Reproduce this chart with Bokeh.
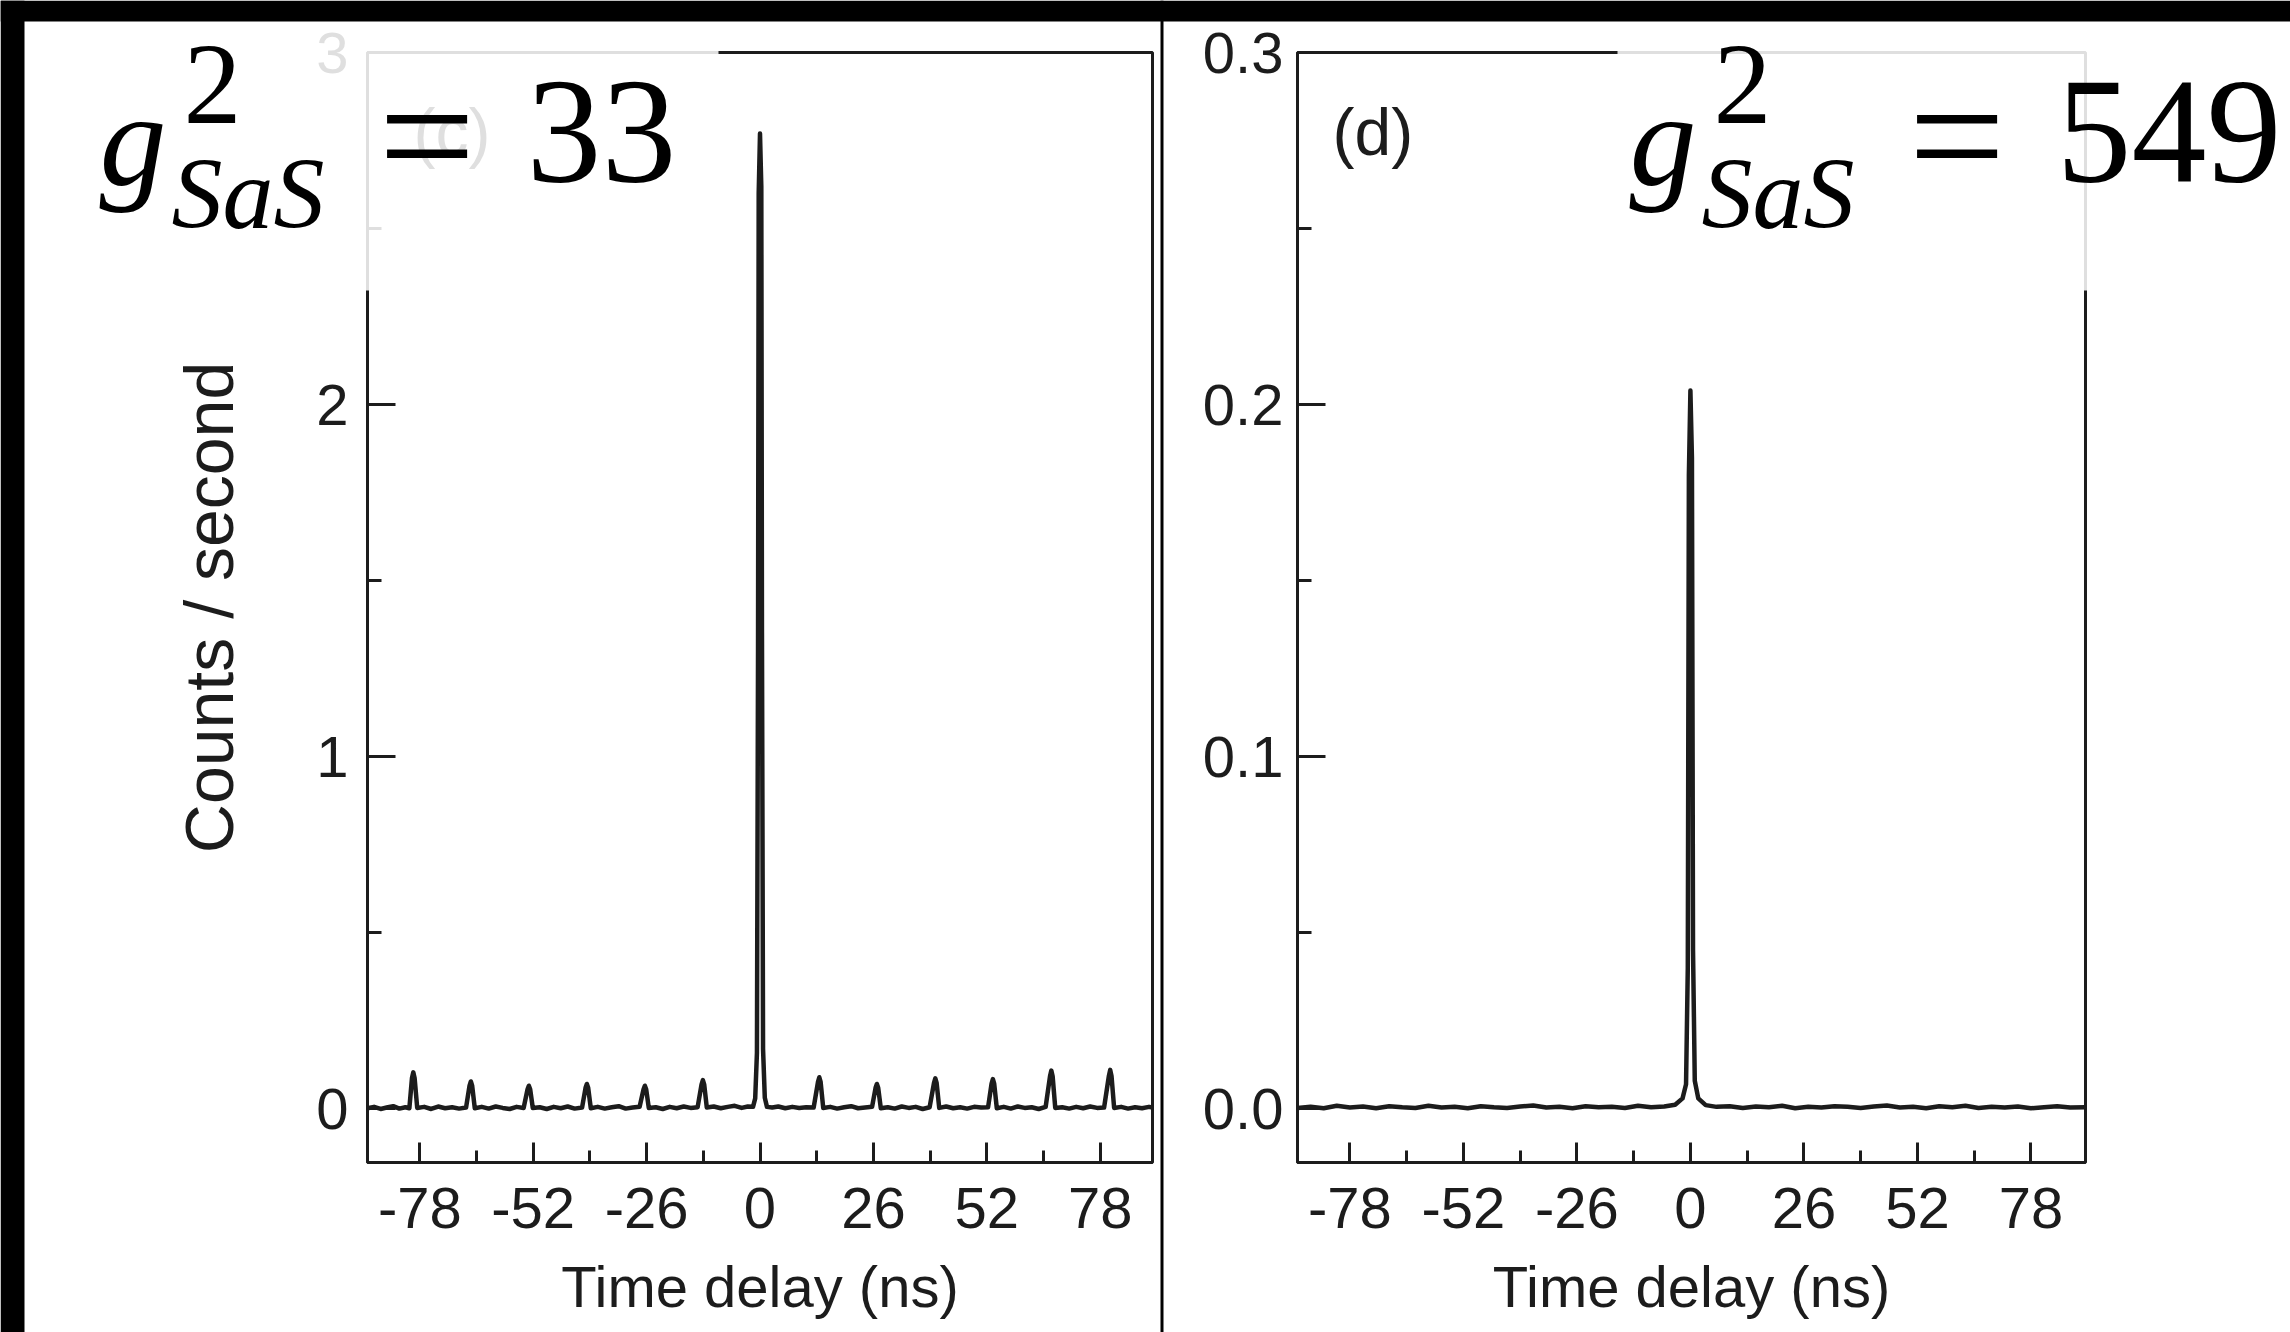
from bokeh.plotting import figure
from bokeh.models import FixedTicker, Label, Range1d, PrintfTickFormatter
from bokeh.layouts import row, column
from bokeh.embed import file_html
from bokeh.resources import INLINE

# ---------------- data ----------------
# panel (c): coincidence histogram, time delay (ns) vs counts / second
x_c = [
    -90.0, -88.5, -87.0, -85.6, -84.1, -82.7, -81.3, -80.4, -79.8, -79.5, -79.2, -78.6,
    -77.0, -75.4, -73.8, -72.2, -70.6, -69.0, -67.4, -66.6, -66.3, -66.0, -65.4,
    -63.8, -62.2, -60.6, -59.0, -57.4, -55.8, -54.2, -53.3, -53.0, -52.7, -52.1,
    -50.5, -48.9, -47.3, -45.7, -44.1, -42.5, -40.8, -40.0, -39.7, -39.4, -38.8,
    -37.2, -35.6, -34.0, -32.4, -30.8, -29.2, -27.6, -26.7, -26.4, -26.1, -25.5,
    -23.9, -22.3, -20.7, -19.1, -17.5, -15.9, -14.3, -13.4, -13.1, -12.8, -12.2,
    -10.6, -9.0, -7.4, -5.8, -4.2, -2.8, -1.6,
    -1.1, -0.7, -0.45, -0.3, 0.0, 0.3, 0.45, 0.7, 1.1, 1.6,
    2.8, 4.2, 5.8, 7.4, 9.0, 10.6, 12.3, 13.3, 13.6, 13.9, 14.5,
    16.1, 17.7, 19.3, 20.9, 22.5, 24.1, 25.7, 26.5, 26.8, 27.1, 27.7,
    29.3, 30.9, 32.5, 34.1, 35.7, 37.3, 38.9, 39.9, 40.2, 40.5, 41.1,
    42.7, 44.3, 45.9, 47.5, 49.1, 50.7, 52.3, 53.1, 53.4, 53.7, 54.3,
    55.9, 57.5, 59.1, 60.7, 62.3, 63.9, 65.5, 66.5, 66.8, 67.1, 67.7,
    69.3, 70.9, 72.5, 74.1, 75.7, 77.3, 78.9, 80.0, 80.3, 80.6, 81.2,
    82.8, 84.4, 86.0, 87.6, 89.2, 90.5,
]
y_c = [
    0.002, 0.006, 0.000, 0.004, 0.008, 0.001, 0.005, 0.002, 0.088, 0.104, 0.088, 0.003,
    0.006, 0.000, 0.007, 0.002, 0.005, 0.001, 0.004, 0.066, 0.078, 0.066, 0.002,
    0.006, 0.001, 0.007, 0.003, 0.000, 0.006, 0.003, 0.056, 0.066, 0.056, 0.003,
    0.005, 0.000, 0.006, 0.002, 0.007, 0.001, 0.004, 0.060, 0.071, 0.060, 0.002,
    0.006, 0.001, 0.005, 0.008, 0.001, 0.004, 0.006, 0.056, 0.066, 0.056, 0.003,
    0.005, 0.000, 0.006, 0.002, 0.007, 0.003, 0.005, 0.070, 0.082, 0.070, 0.004,
    0.007, 0.002, 0.006, 0.009, 0.003, 0.007, 0.006,
    0.030, 0.160, 1.300, 2.600, 2.770, 2.620, 1.350, 0.170, 0.032, 0.006,
    0.004, 0.007, 0.002, 0.006, 0.003, 0.005, 0.004, 0.077, 0.090, 0.077, 0.003,
    0.006, 0.001, 0.005, 0.008, 0.002, 0.004, 0.006, 0.060, 0.071, 0.060, 0.002,
    0.005, 0.001, 0.007, 0.003, 0.006, 0.000, 0.005, 0.074, 0.087, 0.074, 0.003,
    0.007, 0.002, 0.005, 0.001, 0.006, 0.004, 0.005, 0.072, 0.085, 0.072, 0.002,
    0.006, 0.001, 0.007, 0.003, 0.005, 0.000, 0.006, 0.093, 0.109, 0.093, 0.003,
    0.005, 0.001, 0.006, 0.002, 0.007, 0.003, 0.004, 0.094, 0.111, 0.094, 0.003,
    0.006, 0.001, 0.005, 0.002, 0.006, 0.003,
]

# panel (d)
x_d = [
    -90.0, -87.0, -84.0, -81.0, -78.0, -75.0, -72.0, -69.0, -66.0, -63.0, -60.0, -57.0,
    -54.0, -51.0, -48.0, -45.0, -42.0, -39.0, -36.0, -33.0, -30.0, -27.0, -24.0, -21.0,
    -18.0, -15.0, -12.0, -9.0, -6.0,
    -3.5, -1.8, -1.0, -0.6, -0.35, 0.0, 0.35, 0.6, 1.0, 1.8, 3.5,
    6.0, 9.0, 12.0, 15.0, 18.0, 21.0, 24.0, 27.0, 30.0, 33.0, 36.0, 39.0, 42.0, 45.0,
    48.0, 51.0, 54.0, 57.0, 60.0, 63.0, 66.0, 69.0, 72.0, 75.0, 78.0, 81.0, 84.0, 87.0,
    90.5,
]
y_d = [
    0.0003, 0.0006, 0.0002, 0.0009, 0.0004, 0.0007, 0.0002, 0.0008, 0.0005, 0.0003, 0.0009, 0.0004,
    0.0006, 0.0002, 0.0008, 0.0005, 0.0003, 0.0007, 0.0010, 0.0004, 0.0006, 0.0002, 0.0008, 0.0005,
    0.0006, 0.0003, 0.0009, 0.0005, 0.0007,
    0.0012, 0.0030, 0.0070, 0.0400, 0.1800, 0.2040, 0.1850, 0.0450, 0.0080, 0.0030, 0.0011,
    0.0006, 0.0008, 0.0003, 0.0007, 0.0005, 0.0009, 0.0002, 0.0006, 0.0004, 0.0008, 0.0006, 0.0003,
    0.0007, 0.0010, 0.0004, 0.0006, 0.0002, 0.0008, 0.0005, 0.0009, 0.0003, 0.0006, 0.0004, 0.0007,
    0.0002, 0.0005, 0.0008, 0.0004,
    0.0005,
]
assert len(x_c) == len(y_c) and len(x_d) == len(y_d)

x_major = [-78, -52, -26, 0, 26, 52, 78]
x_minor = [-65, -39, -13, 13, 39, 65]
yc_major = [0, 1, 2, 3]
yc_minor = [0.5, 1.5, 2.5]
yd_major = [0.0, 0.1, 0.2, 0.3]
yd_minor = [0.05, 0.15, 0.25]

x_title = "Time delay (ns)"
yc_title = "Counts / second"
panel_tags = ["(c)", "(d)"]
g2_values = ["33", "549"]

INK = "#1c1c1c"
SANS = "Liberation Sans"
SERIF = "Liberation Serif, Times New Roman, Times, Nimbus Roman, DejaVu Serif, serif"
W, H = 2290, 1332
WC = 1160
WD = W - WC
BASE_SHIFT = 0.34  # em offset of Bokeh's alphabetic anchor, calibrated


def make_fig(w, xr, yr, mb_left, mb_right, mb_top, mb_bottom):
    p = figure(width=w, height=H, x_range=Range1d(*xr), y_range=Range1d(*yr),
               output_backend="svg", toolbar_location=None,
               min_border_left=mb_left, min_border_right=mb_right,
               min_border_top=mb_top, min_border_bottom=mb_bottom)
    p.background_fill_color = "white"
    p.border_fill_color = "white"
    p.grid.grid_line_color = None
    p.outline_line_color = INK
    p.outline_line_width = 3
    for ax in (p.xaxis[0], p.yaxis[0]):
        ax.axis_line_color = INK
        ax.axis_line_width = 3
        ax.major_tick_line_color = INK
        ax.minor_tick_line_color = INK
        ax.major_tick_line_width = 3
        ax.minor_tick_line_width = 3
        ax.major_tick_out = 0
        ax.minor_tick_out = 0
        ax.major_label_text_font = SANS
        ax.major_label_text_font_size = "58px"
        ax.major_label_text_color = INK
        ax.axis_label_text_font = SANS
        ax.axis_label_text_font_style = "normal"
        ax.axis_label_text_color = INK
    xa = p.xaxis[0]
    xa.ticker = FixedTicker(ticks=x_major, minor_ticks=x_minor)
    xa.formatter = PrintfTickFormatter(format="%d")
    xa.major_tick_in = 20
    xa.minor_tick_in = 12
    xa.major_label_standoff = 25
    xa.axis_label = x_title
    xa.axis_label_text_font_size = "58px"
    xa.axis_label_standoff = 23
    ya = p.yaxis[0]
    ya.major_tick_in = 28
    ya.minor_tick_in = 14
    return p


def tag(p, x, baseline, s, size):
    p.add_layout(Label(x=x, y=baseline - BASE_SHIFT * size, x_units="canvas", y_units="canvas",
                       text=s, text_font=SANS, text_font_size=f"{size}px", text_color=INK,
                       text_align="left", text_baseline="alphabetic"))


# ---------------- panel (c) ----------------
pc = make_fig(WC, (-90, 90), (-0.152, 3.0), 367, 8, 51, 170)
pc.yaxis[0].ticker = FixedTicker(ticks=yc_major, minor_ticks=yc_minor)
pc.yaxis[0].formatter = PrintfTickFormatter(format="%d")
pc.yaxis[0].major_label_standoff = 19
pc.yaxis[0].axis_label = yc_title
pc.yaxis[0].axis_label_text_font_size = "68px"
pc.yaxis[0].axis_label_standoff = 66
pc.line(x_c, y_c, line_color=INK, line_width=4.5, line_join="round")
tag(pc, 413, 154, panel_tags[0], 66)

# ---------------- panel (d) ----------------
pd = make_fig(WD, (-90, 90.5), (-0.0152, 0.3), 137, 205, 52, 169)
pd.yaxis[0].ticker = FixedTicker(ticks=yd_major, minor_ticks=yd_minor)
pd.yaxis[0].formatter = PrintfTickFormatter(format="%.1f")
pd.yaxis[0].major_label_standoff = 14
pd.line(x_d, y_d, line_color=INK, line_width=4.5, line_join="round")
tag(pd, 172, 154, panel_tags[1], 66)

# ---------------- overlay (pasted formula boxes, black borders) ----------------
ov = figure(width=W, height=H, x_range=Range1d(0, W), y_range=Range1d(H, 0),
            output_backend="svg", toolbar_location=None,
            x_axis_type=None, y_axis_type=None, min_border=0)
ov.outline_line_color = None
ov.background_fill_alpha = 0
ov.border_fill_alpha = 0
ov.margin = (-H, 0, 0, 0)

# faded (semi-opaque white) patches behind the formulas
ov.quad(left=[24, 1617], right=[718, W], top=[21, 21], bottom=[290, 290],
        fill_color="white", fill_alpha=0.86, line_color=None)
# black strips of the screenshot
ov.quad(left=[0, 0, 1160], right=[W, 24, 1163], top=[0, 0, 0], bottom=[21, H, H],
        fill_color="black", line_color=None)


def otxt(x, baseline, s, size, style="normal"):
    ov.add_layout(Label(x=x, y=baseline - BASE_SHIFT * size, text=s,
                        text_font=SERIF, text_font_size=f"{size}px",
                        text_font_style=style, text_color="black",
                        text_align="left", text_baseline="alphabetic"))


def formula(x0, val):
    otxt(x0 + 2, 185, "g", 134, "italic")
    otxt(x0 + 86, 123, "2", 116)
    otxt(x0 + 74, 228, "SaS", 102, "italic")
    otxt(x0 + 281, 194, "=", 172)
    otxt(x0 + 429, 183, val, 150)


formula(97, g2_values[0])
formula(1627, g2_values[1])

layout = column(row(pc, pd), ov)
open("out.html", "w").write(file_html(layout, INLINE))
